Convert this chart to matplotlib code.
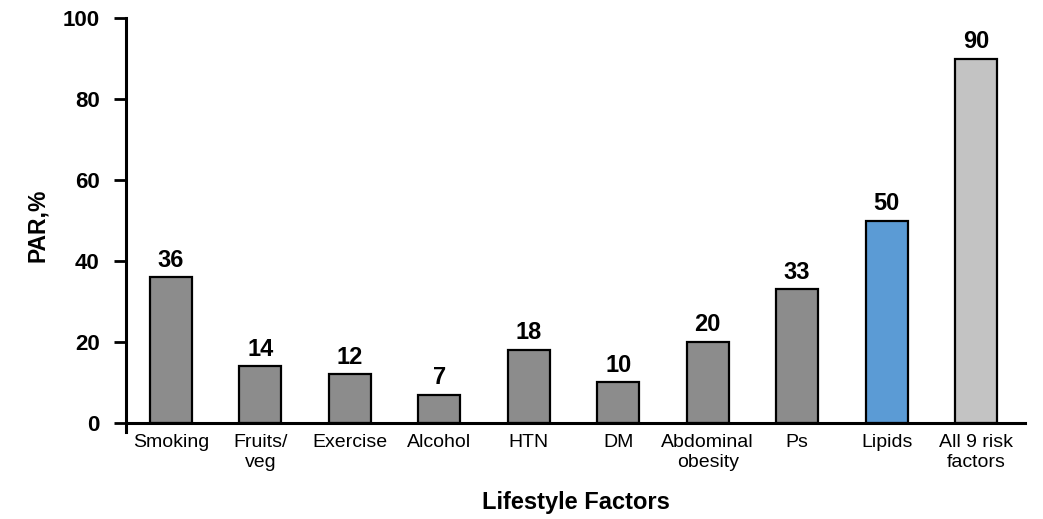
import numpy as np
import matplotlib.pyplot as plt

factors = ["Smoking", "Fruits/\nveg", "Exercise", "Alcohol", "HTN", "DM",
           "Abdominal\nobesity", "Ps", "Lipids", "All 9 risk\nfactors"]
par = [36, 14, 12, 7, 18, 10, 20, 33, 50, 90]
bar_colors = ["#8c8c8c"] * 8 + ["#5b9bd5", "#c3c3c3"]

plt.rcParams['font.family'] = ['Liberation Sans', 'DejaVu Sans']

fig = plt.figure(figsize=(10.43, 5.19), dpi=100)
ax = fig.add_axes([0.121, 0.168, 0.862, 0.797])

x = np.arange(len(factors))
bars = ax.bar(x, par, width=0.47, color=bar_colors, edgecolor="black", linewidth=1.6)

for xi, v in zip(x, par):
    ax.annotate(str(v), (xi, v), xytext=(0, 4), textcoords="offset points",
                ha="center", va="bottom", fontsize=17, fontweight="bold")

ax.set_xlim(-0.5, 9.55)
ax.set_ylim(-2.2, 100)
ax.set_yticks([0, 20, 40, 60, 80, 100])
ax.set_xticks(x)
ax.set_xticklabels(factors, linespacing=1.05)
ax.tick_params(axis="x", length=0, pad=8, labelsize=14)
ax.tick_params(axis="y", length=9, width=2, labelsize=16, pad=10)
for lbl in ax.get_yticklabels():
    lbl.set_fontweight("bold")

for s in ["top", "right"]:
    ax.spines[s].set_visible(False)
ax.spines["left"].set_linewidth(2.2)
ax.spines["bottom"].set_linewidth(2.2)
ax.spines["bottom"].set_position(("data", 0))
ax.spines["left"].set_bounds(-2.2, 100)

ax.set_ylabel("PAR,%", fontsize=16.5, fontweight="bold", labelpad=10)
ax.set_xlabel("Lifestyle Factors", fontsize=17, fontweight="bold", labelpad=15)

fig.savefig("out.png", dpi=100, facecolor="white")
